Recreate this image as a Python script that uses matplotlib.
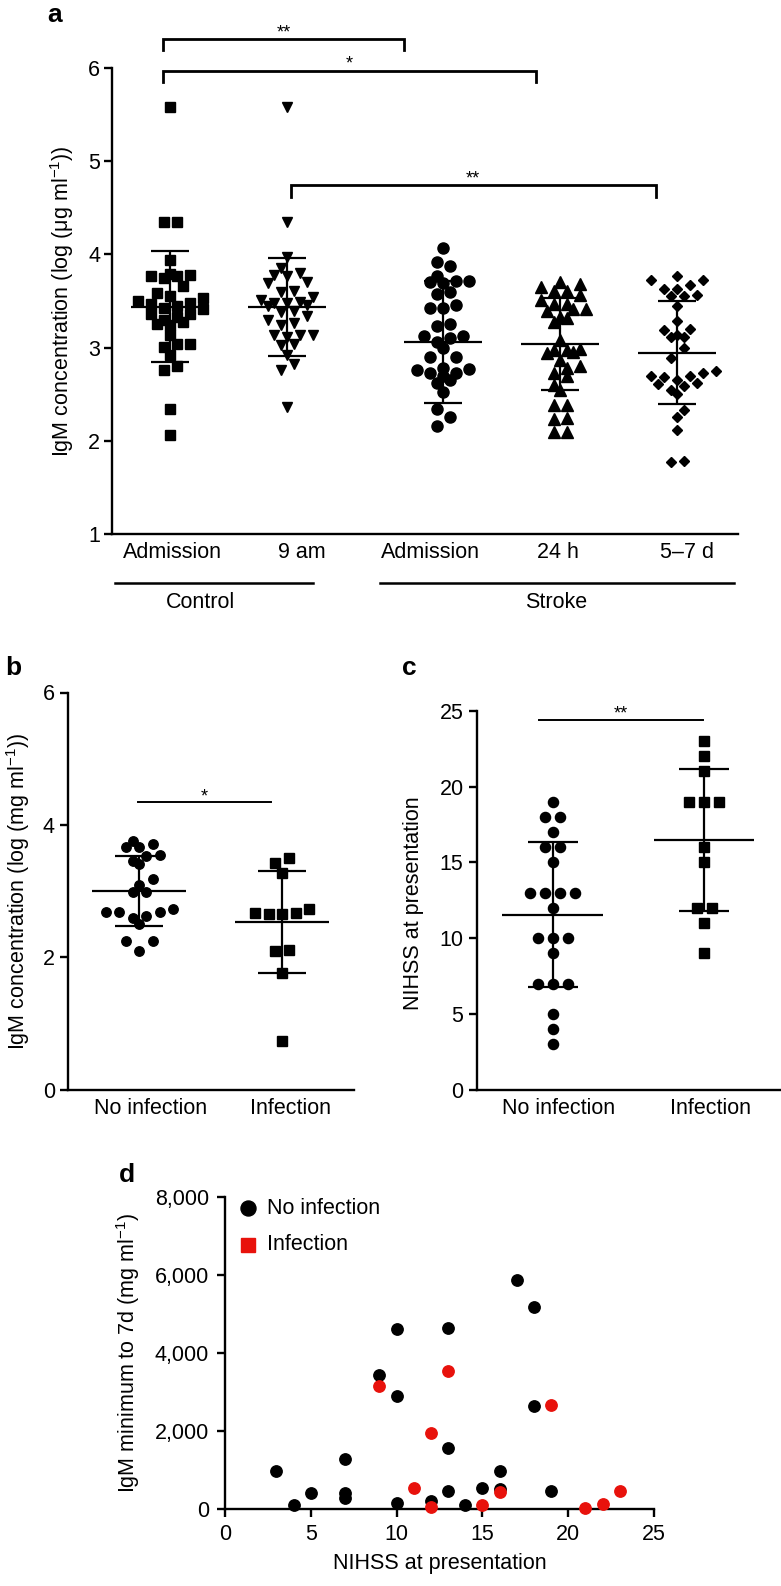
import numpy as np
import matplotlib
matplotlib.use("Agg")
import matplotlib.pyplot as plt
from matplotlib.ticker import FuncFormatter

W, H = 781, 1586
FS = 15.5

# ---------- panel a: IgM (log ug/ml), control vs stroke time points ----------
A_LABELS = ["Admission", "9 am", "Admission", "24 h", "5–7 d"]
A_GROUPS = ["Control", "Stroke"]
CTRL_ADM = [5.58, 4.35, 4.35, 3.94, 3.79, 3.77, 3.75, 3.77, 3.78, 3.66, 3.59, 3.53,
            3.48, 3.45, 3.47, 3.50, 3.55, 3.43, 3.36, 3.33, 3.30, 3.36, 3.41, 3.25,
            3.24, 3.28, 3.13, 3.04, 3.01, 3.04, 2.92, 2.80, 2.76, 2.34, 2.06]
CTRL_9AM = [5.58, 4.35, 3.97, 3.85, 3.78, 3.77, 3.70, 3.80, 3.69, 3.60, 3.61, 3.54,
            3.49, 3.46, 3.45, 3.48, 3.48, 3.51, 3.38, 3.39, 3.24, 3.26, 3.30, 3.34,
            3.13, 3.14, 3.11, 3.14, 3.04, 3.03, 2.92, 2.82, 2.76, 2.36]
STROKE_ADM = [4.07, 3.88, 3.92, 3.77, 3.71, 3.70, 3.69, 3.71, 3.58, 3.60, 3.43, 3.43,
              3.46, 3.23, 3.25, 3.12, 3.10, 3.12, 3.06, 3.00, 2.90, 2.90, 2.78, 2.76,
              2.73, 2.69, 2.73, 2.77, 2.65, 2.62, 2.52, 2.34, 2.26, 2.16]
STROKE_24H = [3.68, 3.65, 3.70, 3.61, 3.56, 3.61, 3.51, 3.47, 3.47, 3.41, 3.39, 3.41,
              3.33, 3.32, 3.27, 3.08, 2.98, 2.95, 2.94, 2.97, 2.97, 2.87, 2.80, 2.73,
              2.78, 2.70, 2.60, 2.55, 2.38, 2.38, 2.23, 2.24, 2.09, 2.09]
STROKE_5_7D = [3.77, 3.72, 3.63, 3.63, 3.67, 3.73, 3.55, 3.55, 3.56, 3.45, 3.29, 3.20,
               3.14, 3.11, 3.11, 3.19, 3.00, 2.89, 2.75, 2.69, 2.68, 2.69, 2.73, 2.65,
               2.61, 2.55, 2.50, 2.59, 2.62, 2.33, 2.25, 2.12, 1.77, 1.78]
A_MEAN = [3.44, 3.44, 3.06, 3.04, 2.945]
A_SD = [0.595, 0.525, 0.65, 0.49, 0.555]
A_MARKERS = [("s", 6.6), ("v", 7.8), ("o", 8.0), ("^", 8.0), ("D", 5.6)]
A_SIG = ["**", "*", "**"]

# ---------- panel b: IgM by infection ----------
INF_LABELS = ["No infection", "Infection"]
B_NOINF = [3.71, 3.66, 3.66, 3.76, 3.54, 3.53, 3.46, 3.41, 3.18, 3.10, 2.98, 2.98,
           2.68, 2.68, 2.60, 2.51, 2.62, 2.68, 2.73, 2.25, 2.24, 2.09]
B_INF = [3.50, 3.42, 3.28, 2.67, 2.65, 2.65, 2.67, 2.73, 2.10, 2.11, 1.77, 0.74]
B_MEAN = [3.00, 2.53]
B_SD = [0.53, 0.77]

# ---------- panel c: NIHSS by infection ----------
C_NOINF = [19, 18, 18, 17, 16, 16, 15, 13, 13, 13, 13, 12, 10, 10, 10, 9, 7, 7, 7, 5, 4, 3]
C_INF = [23, 22, 21, 19, 19, 19, 16, 15, 12, 12, 11, 9]
C_MEAN = [11.56, 16.48]
C_SD = [4.79, 4.68]

# ---------- panel d: IgM minimum vs NIHSS ----------
D_NIHSS_NOINF = [3, 4, 5, 7, 7, 7, 9, 10, 10, 10, 12, 13, 13, 13, 14, 15, 16, 16, 17, 18, 18, 19]
D_IGM_NOINF = [984, 111, 411, 1283, 411, 282, 3448, 4620, 2892, 154, 197, 4646, 1566,
               471, 111, 539, 967, 513, 5861, 5176, 2635, 471]
D_NIHSS_INF = [9, 11, 12, 12, 13, 15, 16, 19, 21, 22, 23]
D_IGM_INF = [3149, 539, 1951, 51, 3534, 111, 428, 2678, 20, 136, 450]

plt.rcParams.update({
    "font.family": ["Liberation Sans", "DejaVu Sans"],
    "font.size": FS,
    "mathtext.fontset": "custom",
    "mathtext.rm": "Liberation Sans",
    "mathtext.default": "regular",
    "axes.linewidth": 1.7,
    "xtick.major.width": 1.7,
    "ytick.major.width": 1.7,
    "xtick.major.size": 5.5,
    "ytick.major.size": 5.5,
})

fig = plt.figure(figsize=(W / 100, H / 100), dpi=100, facecolor="white")


def box(l, t, r, b):
    return [l / W, 1 - b / H, (r - l) / W, (b - t) / H]


def swarm(vals, ppu_y, ppu_x, spacing, row_h, dmin=10.0):
    """Prism-style scatter: values binned into rows of row_h px, each row centred
    (smallest values in the middle); a row is staggered by half a slot when it
    would sit on top of the row below. Returns x offsets in data units."""
    v = np.asarray(vals, float)
    y = v * ppu_y
    rows = np.floor((v - v.min()) * ppu_y / row_h + 1e-9).astype(int)
    off = np.zeros(len(v))
    placed = []
    for r in np.unique(rows):
        idx = np.where(rows == r)[0]
        idx = idx[np.argsort(v[idx], kind="stable")]
        n = len(idx)
        base = (np.arange(n) - (n - 1) / 2) * spacing
        best, best_gap = None, -1
        for shift in (0.0, spacing / 2, -spacing / 2):
            slots = base + shift
            slots = slots[np.argsort(np.abs(slots), kind="stable")]
            gap = min([np.hypot(sx - px, y[i] - py) for sx, i in zip(slots, idx)
                       for px, py in placed] or [1e9])
            if gap >= dmin:
                best = slots
                break
            if gap > best_gap:
                best, best_gap = slots, gap
        for sx, i in zip(best, idx):
            placed.append((sx, y[i]))
            off[i] = sx / ppu_x
    return off


def style(ax):
    for s in ("top", "right"):
        ax.spines[s].set_visible(False)
    ax.tick_params(labelsize=FS)


def dots_with_sd(ax, pos, vals, mean, sd, marker, ms, ppu_y, ppu_x, spacing, row_h, capsize):
    off = swarm(vals, ppu_y, ppu_x, spacing, row_h)
    ax.plot(pos + off, vals, linestyle="none", marker=marker, ms=ms, color="black",
            mec="black", clip_on=False, zorder=2)
    ax.hlines(mean, pos - 0.33, pos + 0.33, color="black", lw=1.6, zorder=3)
    ax.errorbar([pos], [mean], yerr=[sd], fmt="none", ecolor="black", elinewidth=1.6,
                capsize=capsize, capthick=1.6, zorder=3)


# ================= a =================
axa = fig.add_axes(box(112, 68, 738, 534))
style(axa)
a_ppx = 117.0
a_pos = np.array([1, 2, 10 / 3, 13 / 3, 16 / 3])
axa.set_xlim(1 + (112 - 170) / a_ppx, 1 + (738 - 170) / a_ppx)
axa.set_ylim(1, 6)
axa.set_yticks(range(1, 7))
axa.tick_params(axis="y", pad=3)
a_ppy = (534 - 68) / 5
for k, vals in enumerate([CTRL_ADM, CTRL_9AM, STROKE_ADM, STROKE_24H, STROKE_5_7D]):
    mk, ms = A_MARKERS[k]
    dots_with_sd(axa, a_pos[k], vals, A_MEAN[k], A_SD[k], mk, ms, a_ppy, a_ppx,
                 13, 11.5, 14)

label_px = np.array([172, 302, 430, 558, 687])
axa.set_xticks(1 + (label_px - 170) / a_ppx, A_LABELS)
axa.tick_params(axis="x", length=0, pad=6)

tr = axa.get_xaxis_transform()
for (x0, x1), name, xc in zip([(115, 313), (380, 734)], A_GROUPS, [200, 556]):
    axa.plot([1 + (x0 - 170) / a_ppx, 1 + (x1 - 170) / a_ppx], [-0.105, -0.105],
             transform=tr, color="black", lw=1.8, clip_on=False)
    axa.text(1 + (xc - 170) / a_ppx, -0.148, name, transform=tr, ha="center",
             va="center", fontsize=FS)

# significance brackets, drawn where the figure has them
sig_x = [(0.94, 3.0), (0.94, 4.13), (2.03, 5.15)]
sig_y = [6.31, 5.97, 4.74]
for star, (x0, x1), y in zip(A_SIG, sig_x, sig_y):
    axa.plot([x0, x0, x1, x1], [y - 0.12, y, y, y - 0.12], color="black", lw=2.0,
             clip_on=False, solid_joinstyle="miter")
    axa.text((x0 + x1) / 2, y + 0.02, star, ha="center", va="baseline", fontsize=13)

# ================= b =================
axb = fig.add_axes(box(68, 692.5, 353.5, 1089.8))
style(axb)
axb.set_xlim(0.5, 2.5)
axb.set_ylim(0, 6)
axb.set_yticks([0, 2, 4, 6])
b_ppx, b_ppy = 285.5 / 2, (1089.8 - 692.5) / 6
for k, (vals, mk) in enumerate([(B_NOINF, "o"), (B_INF, "s")]):
    dots_with_sd(axb, k + 1, vals, B_MEAN[k], B_SD[k], mk, 6.8, b_ppy, b_ppx, 13.5, 11, 17)
axb.set_xticks([1.08, 2.06], INF_LABELS)
axb.tick_params(axis="x", length=0, pad=6)
axb.tick_params(axis="y", pad=4)
axb.plot([0.99, 1.92], [4.34, 4.34], color="black", lw=1.4)
axb.text(1.455, 4.36, "*", ha="center", va="baseline", fontsize=13)

# ================= c =================
axc = fig.add_axes(box(476.7, 710.8, 779.9, 1089.8))
style(axc)
axc.set_xlim(0.5, 2.5)
axc.set_ylim(0, 25)
axc.set_yticks(range(0, 26, 5))
c_ppx, c_ppy = 303.2 / 2, (1089.8 - 710.8) / 25
for k, (vals, mk, ms) in enumerate([(C_NOINF, "o", 7.3), (C_INF, "s", 6.8)]):
    dots_with_sd(axc, k + 1, vals, C_MEAN[k], C_SD[k], mk, ms, c_ppy, c_ppx, 15, 14, 18)
axc.set_xticks([1.04, 2.04], INF_LABELS)
axc.tick_params(axis="x", length=0, pad=6)
axc.tick_params(axis="y", pad=4)
axc.plot([0.91, 1.99], [24.4, 24.4], color="black", lw=1.4, clip_on=False)
axc.text(1.45, 24.5, "**", ha="center", va="baseline", fontsize=13)

# ================= d =================
axd = fig.add_axes(box(225, 1197, 654, 1509))
style(axd)
axd.set_xlim(0, 25)
axd.set_ylim(0, 8000)
axd.set_xticks(range(0, 26, 5))
axd.set_yticks(range(0, 8001, 2000))
axd.yaxis.set_major_formatter(FuncFormatter(lambda v, p: f"{int(v):,}"))
axd.tick_params(axis="x", pad=5)
axd.tick_params(axis="y", pad=6)
axd.plot(D_NIHSS_NOINF, D_IGM_NOINF, linestyle="none", marker="o", ms=8.2, color="black",
         clip_on=False, zorder=3)
axd.plot(D_NIHSS_INF, D_IGM_INF, linestyle="none", marker="o", ms=8.2, color="#e8120c",
         clip_on=False, zorder=3)
axd.set_xlabel("NIHSS at presentation", fontsize=FS, labelpad=6)
# legend drawn by hand
lx = (248 - 225) / 429
axd.plot([lx], [(1509 - 1208) / 312], marker="o", ms=10.8, color="black",
         transform=axd.transAxes, clip_on=False)
axd.plot([lx], [(1509 - 1245) / 312], marker="s", ms=10.3, color="#e8120c",
         transform=axd.transAxes, clip_on=False)
axd.text((267 - 225) / 429, (1509 - 1208) / 312, "No infection", transform=axd.transAxes,
         va="center", fontsize=FS)
axd.text((267 - 225) / 429, (1509 - 1245) / 312, "Infection", transform=axd.transAxes,
         va="center", fontsize=FS)

# ---------- axis titles & panel letters ----------
def ftext(x, y, s, **kw):
    fig.text(x / W, 1 - y / H, s, **kw)


ftext(62, 301, "IgM concentration (log (μg ml$^{-1}$))", rotation=90, ha="center",
      va="center", fontsize=FS)
ftext(18, 891, "IgM concentration (log (mg ml$^{-1}$))", rotation=90, ha="center",
      va="center", fontsize=FS)
ftext(413, 903, "NIHSS at presentation", rotation=90, ha="center", va="center", fontsize=FS)
ftext(128, 1353, "IgM minimum to 7d (mg ml$^{-1}$)", rotation=90, ha="center",
      va="center", fontsize=FS)
for letter, (x, y) in {"a": (55, 15), "b": (13, 668), "c": (409, 668), "d": (127, 1175)}.items():
    ftext(x, y, letter, fontsize=19, fontweight="bold", ha="center", va="center")

fig.savefig("out.png", dpi=100, facecolor="white")
